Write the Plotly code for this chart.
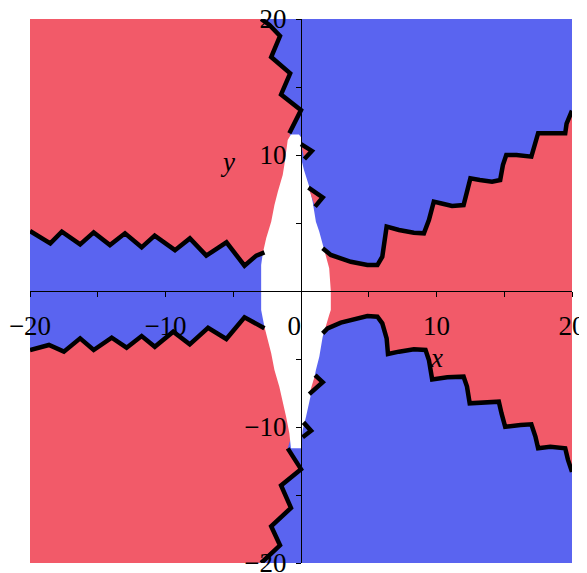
import plotly.graph_objects as go

# axis limits
X_MIN, X_MAX = -20, 20
Y_MIN, Y_MAX = -20, 20

RED = "#f25a69"
BLUE = "#5a64f0"

# tick labels
x_ticks = [-20, -10, 0, 10, 20]
x_tick_text = ["\u221220", "\u221210", "0\u2002", "10", "20"]
y_ticks = [-20, -10, 10, 20]

# boundary curves
top_zig_x = [-2.94, -2.33, -1.55, -2.2, -0.8, -1.47, 0.0, -0.61, -0.86]
top_zig_y = [20.0, 19.56, 18.75, 17.2, 16.0, 14.45, 13.3, 12.2, 11.6]

bot_zig_x = [-0.98, 0.0, -1.47, -0.74, -2.2, -1.55, -2.94]
bot_zig_y = [-11.57, -13.1, -14.3, -15.95, -17.3, -18.7, -20.0]

left_upper_x = [-20.0, -18.5, -17.65, -16.3, -15.3, -14.1, -12.99, -11.76, -10.8,
                -9.3, -8.2, -6.99, -5.5, -4.17, -3.3, -2.7]
left_upper_y = [4.41, 3.5, 4.36, 3.43, 4.31, 3.38, 4.24, 3.21, 4.07,
                3.0, 3.87, 2.6, 3.58, 1.86, 2.6, 2.84]

left_lower_x = [-20.0, -18.6, -17.5, -16.3, -15.3, -13.97, -12.87, -11.76, -10.79,
                -9.43, -8.21, -6.86, -5.51, -4.17, -2.7]
left_lower_y = [-4.34, -3.97, -4.46, -3.48, -4.34, -3.43, -4.17, -3.31, -4.1,
                -2.99, -3.92, -2.7, -3.53, -1.93, -2.74]

right_upper_x = [1.6, 2.2, 3.68, 4.9, 5.64, 6.0, 6.32, 7.23, 8.33, 9.07, 9.44, 9.8,
                 10.3, 11.15, 12.0, 12.25, 12.5, 13.2, 14.1, 14.7, 14.9, 15.15,
                 15.9, 17.0, 17.2, 17.5, 18.1, 19.5, 19.6, 20.0]
right_upper_y = [3.14, 2.65, 2.15, 1.91, 1.91, 2.52, 4.73, 4.49, 4.29, 4.24, 5.22, 6.57,
                 6.45, 6.25, 6.32, 7.18, 8.28, 8.16, 8.04, 8.16, 9.26, 10.0,
                 10.0, 9.88, 10.7, 11.6, 11.6, 11.6, 12.3, 13.26]

right_lower_x = [1.6, 1.96, 2.94, 4.04, 4.9, 5.64, 6.0, 6.32, 6.42, 7.23, 8.33, 9.19,
                 9.44, 9.68, 10.8, 12.0, 12.25, 12.45, 13.36, 14.6, 14.8, 15.07,
                 16.2, 17.0, 17.3, 17.5, 18.4, 19.5, 19.7, 20.0]
right_lower_y = [-3.11, -2.75, -2.33, -2.08, -1.84, -1.89, -2.38, -3.48, -4.63, -4.46,
                 -4.29, -4.34, -5.07, -6.5, -6.35, -6.3, -7.03, -8.26, -8.21, -8.14,
                 -9.0, -9.98, -9.85, -9.8, -10.7, -11.57, -11.45, -11.57, -12.4, -13.3]

# white (undefined) region round the origin
hole_x = [-0.74, -0.15, 0.0, 0.0, 0.22, 0.61, 0.86, 1.1, 1.35, 1.6, 1.84, 2.08, 2.2,
          2.2, 2.08, 1.84, 1.6, 1.35, 1.1, 0.86, 0.61, 0.37, 0.12, 0.0,
          -0.74, -0.86, -1.1, -1.35, -1.6, -1.96, -2.2, -2.45, -2.7, -2.94,
          -2.94, -2.94, -2.82, -2.57, -2.2, -1.96, -1.71, -1.35, -1.23, -0.98]
hole_y = [11.5, 11.5, 11.3, 9.78, 8.9, 7.67, 6.57, 5.1, 4.36, 3.38, 2.4, 1.67, 0.0,
          -1.4, -1.76, -2.63, -3.36, -4.83, -5.8, -7.04, -8.26, -9.24, -10.22, -11.57,
          -11.57, -10.46, -9.24, -8.01, -7.04, -5.8, -4.58, -3.6, -2.63, -1.4,
          0.0, 1.91, 2.77, 3.87, 5.1, 6.32, 7.3, 8.53, 9.26, 11.1]

# small notches along the edge of the white region
notches = [
    ([0.0, 0.8, 0.25], [10.8, 10.3, 9.7], True),
    ([0.55, 1.6, 1.04], [7.6, 6.88, 6.2], True),
    ([1.04, 1.6, 0.61], [-6.18, -6.7, -7.58], True),
    ([0.18, 0.74, 0.12], [-9.66, -10.27, -10.75], False),
]

fig = go.Figure()


def add_fill(xs, ys, color):
    fig.add_trace(go.Scatter(x=xs, y=ys, mode="lines", fill="toself",
                             fillcolor=color, line=dict(width=0),
                             hoverinfo="skip", showlegend=False))


def add_curve(xs, ys):
    fig.add_trace(go.Scatter(x=xs, y=ys, mode="lines",
                             line=dict(color="black", width=4.5),
                             hoverinfo="skip", showlegend=False))


# blue regions
add_fill(top_zig_x + right_upper_x + [X_MAX],
         top_zig_y + right_upper_y + [Y_MAX], BLUE)
add_fill(bot_zig_x + [X_MAX] + right_lower_x[::-1],
         bot_zig_y + [Y_MIN] + right_lower_y[::-1], BLUE)
add_fill(left_upper_x + left_lower_x[::-1],
         left_upper_y + left_lower_y[::-1], BLUE)

# white hole
add_fill(hole_x, hole_y, "white")

for nx, ny, red in notches:
    if red:
        add_fill(nx, ny, RED)

for cx, cy in [(top_zig_x, top_zig_y), (bot_zig_x, bot_zig_y),
               (left_upper_x, left_upper_y), (left_lower_x, left_lower_y),
               (right_upper_x, right_upper_y), (right_lower_x, right_lower_y)]:
    add_curve(cx, cy)
for nx, ny, _ in notches:
    add_curve(nx, ny)

tick_font = dict(family="Liberation Serif", size=27, color="black")
axis_common = dict(
    showgrid=False, zeroline=False, showline=True, linecolor="black", linewidth=1,
    anchor="free", position=0.5, ticks="outside", ticklen=5, tickwidth=1,
    tickcolor="black", tickfont=tick_font, automargin=False,
    ticklabeloverflow="allow",
    minor=dict(dtick=5, tick0=0, ticks="outside", ticklen=5, tickcolor="black"),
    layer="above traces", fixedrange=True,
)

# page body has an 8px margin, so the figure is sized to fit inside it
fig.update_layout(
    width=579, height=565,
    margin=dict(l=22, r=15, t=11, b=10),
    paper_bgcolor="white", plot_bgcolor=RED,
    showlegend=False,
    xaxis=dict(range=[X_MIN, X_MAX], tickvals=x_ticks, ticktext=x_tick_text,
               ticklabelstandoff=6, **axis_common),
    yaxis=dict(range=[Y_MIN, Y_MAX], tickvals=y_ticks,
               ticklabelstandoff=4, **axis_common),
    annotations=[
        dict(x=10, y=-4.9, xref="x", yref="y", text="<i>x</i>", showarrow=False,
             font=dict(family="Liberation Serif", size=27, color="black")),
        dict(x=-5.4, y=9.5, xref="x", yref="y", text="<i>y</i>", showarrow=False,
             font=dict(family="Liberation Serif", size=27, color="black")),
    ],
)

fig.write_html("out.html")
